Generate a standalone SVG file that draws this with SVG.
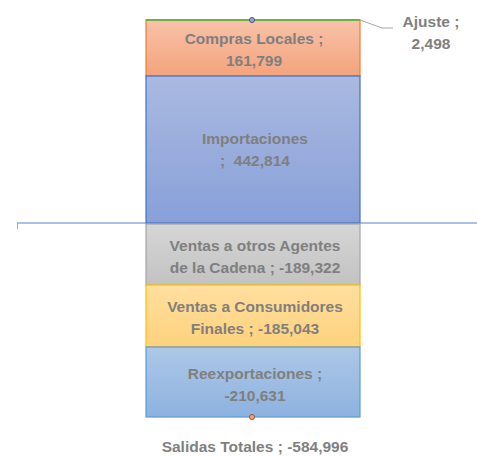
<svg xmlns="http://www.w3.org/2000/svg" width="477" height="457" viewBox="0 0 477 457">
<defs>
<linearGradient id="gO" x1="0" y1="0" x2="0" y2="1"><stop offset="0" stop-color="#f8c2a9"/><stop offset="1" stop-color="#f4a37c"/></linearGradient>
<linearGradient id="gB" x1="0" y1="0" x2="0" y2="1"><stop offset="0" stop-color="#aab9e1"/><stop offset="1" stop-color="#88a0d8"/></linearGradient>
<linearGradient id="gG" x1="0" y1="0" x2="0" y2="1"><stop offset="0" stop-color="#d6d6d6"/><stop offset="1" stop-color="#c2c2c2"/></linearGradient>
<linearGradient id="gY" x1="0" y1="0" x2="0" y2="1"><stop offset="0" stop-color="#ffdf9f"/><stop offset="1" stop-color="#ffd27c"/></linearGradient>
<linearGradient id="gL" x1="0" y1="0" x2="0" y2="1"><stop offset="0" stop-color="#adc8e8"/><stop offset="1" stop-color="#8db2df"/></linearGradient>
</defs>
<style>
text{font-family:"Liberation Sans",Arial,sans-serif;font-weight:bold;font-size:15.5px;fill:#7f7f7f;text-anchor:middle;white-space:pre}
</style>
<g id="connectors">
<line x1="17" y1="223" x2="477" y2="223" stroke="#8faadc" stroke-width="1.5"/>
<line x1="17.5" y1="223" x2="17.5" y2="229" stroke="#8faadc" stroke-width="1"/>
<polyline points="360,20 382,28 393,28" fill="none" stroke="#a6a6a6" stroke-width="1"/>
</g>
<g id="compras">
<rect x="146" y="20" width="214" height="56" fill="url(#gO)" stroke="#ed7d31" stroke-width="1.2"/>
<text x="254" y="44">Compras Locales ;</text>
<text x="254" y="66">161,799</text>
</g>
<g id="importaciones">
<rect x="146" y="76" width="214" height="147" fill="url(#gB)" stroke="#4472c4" stroke-width="1.2"/>
<text x="255" y="144">Importaciones</text>
<text x="255" y="166" xml:space="preserve">;  442,814</text>
</g>
<g id="ventas-otros">
<rect x="146" y="224" width="214" height="61" fill="url(#gG)" stroke="#a5a5a5" stroke-width="1.2"/>
<text x="255" y="251">Ventas a otros Agentes</text>
<text x="255" y="273">de la Cadena ; -189,322</text>
</g>
<g id="ventas-consumidores">
<rect x="146" y="285" width="214" height="62" fill="url(#gY)" stroke="#ffc000" stroke-width="1.2"/>
<text x="255" y="312">Ventas a Consumidores</text>
<text x="255" y="334">Finales ; -185,043</text>
</g>
<g id="reexportaciones">
<rect x="146" y="347" width="214" height="70" fill="url(#gL)" stroke="#5b9bd5" stroke-width="1.2"/>
<text x="255" y="379">Reexportaciones ;</text>
<text x="255" y="401">-210,631</text>
</g>
<g id="ajuste">
<line x1="146" y1="20" x2="360" y2="20" stroke="#70ad47" stroke-width="2"/>
<circle cx="252" cy="20" r="2.5" fill="#8faadc" stroke="#44546a" stroke-width="1"/>
<text x="431" y="27">Ajuste ;</text>
<text x="431" y="49">2,498</text>
</g>
<g id="salidas">
<circle cx="252" cy="417" r="2.5" fill="#f4a37c" stroke="#a0522d" stroke-width="1"/>
<text x="255" y="452">Salidas Totales ; -584,996</text>
</g>
</svg>
